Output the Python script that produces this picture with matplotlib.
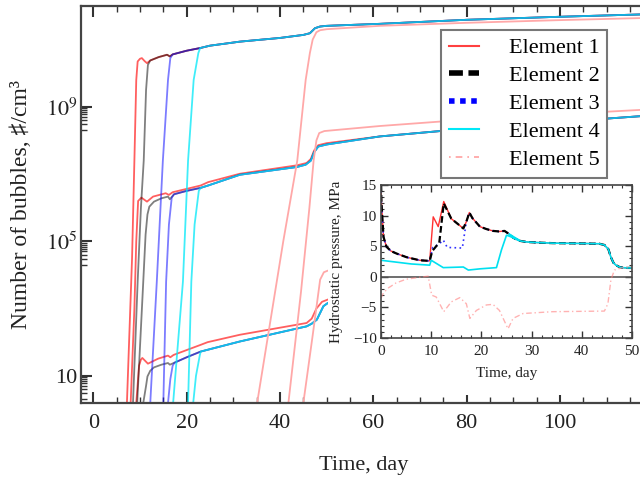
import numpy as np
import matplotlib
matplotlib.use("Agg")
from matplotlib import pyplot as plt
from matplotlib.lines import Line2D
from matplotlib.patches import Rectangle
from matplotlib.ticker import FixedLocator, MultipleLocator, NullFormatter

plt.rcParams['font.family'] = ['Liberation Serif', 'DejaVu Sans']
plt.rcParams['mathtext.fontset'] = 'stix'

# ---- main plot data: day, log10(number of bubbles per cm3) ----
# shared paths once the curves of elements 1-4 have merged
top_t = [12.2, 14.0, 15.8, 16.4, 17.0, 20.0, 22.9, 25.0, 29.3, 31.4, 40.0, 45.0, 46.4, 47.5, 48.6, 50.0, 61.4, 80.0, 100.0, 120.0]
top_v = [10.38, 10.48, 10.55, 10.50, 10.56, 10.67, 10.75, 10.82, 10.90, 10.94, 11.05, 11.14, 11.19, 11.34, 11.39, 11.41, 11.47, 11.59, 11.68, 11.76]
mid_t = [17.3, 20.0, 23.0, 24.6, 31.4, 43.6, 45.5, 46.6, 47.3, 48.2, 50.0, 61.4, 80.0, 100.0, 120.0]
mid_v = [6.40, 6.50, 6.59, 6.66, 6.98, 7.21, 7.28, 7.40, 7.65, 7.82, 7.88, 8.12, 8.35, 8.55, 8.75]
bot_t = [17.4, 20.0, 23.0, 31.4, 45.7, 46.8, 47.9, 49.3, 50.3, 53.0]
bot_v = [1.39, 1.55, 1.72, 2.02, 2.47, 2.55, 2.67, 3.07, 3.17, 3.22]

# Element 1
e1_top_t = [7.2, 8.3, 8.8, 9.2, 9.5, 10.0, 10.4, 11.0, 11.5]
e1_top_v = [0.19, 4.5, 7.4, 9.8, 10.35, 10.43, 10.45, 10.36, 10.30]
e1_mid_t = [8.0, 8.8, 9.2, 9.6, 10.3, 11.5, 12.8, 15.5, 16.2, 17.0, 23.0, 24.6, 31.4, 43.6, 45.7, 46.6, 47.3, 48.2, 50.0]
e1_mid_v = [0.19, 3.0, 5.0, 6.2, 6.30, 6.18, 6.33, 6.43, 6.38, 6.46, 6.66, 6.76, 7.01, 7.26, 7.33, 7.45, 7.70, 7.86, 7.92]
e1_bot_t = [9.2, 9.8, 10.2, 10.5, 11.7, 13.9, 16.0, 16.5, 17.2, 23.0, 24.5, 31.4, 45.7, 46.8, 47.8, 49.0, 50.3, 53.0]
e1_bot_v = [0.19, 1.3, 1.48, 1.53, 1.36, 1.51, 1.60, 1.55, 1.62, 1.92, 2.0, 2.22, 2.57, 2.7, 3.0, 3.2, 3.27, 3.32]
# Element 2
e2_top_t = [8.5, 9.5, 10.2, 10.8, 11.3, 11.7]
e2_top_v = [0.19, 3.8, 6.0, 7.4, 9.5, 10.25]
e2_mid_t = [9.4, 10.7, 11.2, 11.6, 12.0, 13.0, 14.6, 16.0, 16.4]
e2_mid_v = [0.19, 3.8, 5.2, 5.8, 6.03, 6.18, 6.28, 6.33, 6.25]
e2_bot_t = [10.7, 11.3, 11.6, 12.2, 13.0, 14.6, 16.0, 16.4]
e2_bot_v = [0.19, 0.7, 0.98, 1.15, 1.25, 1.33, 1.38, 1.33]
# Element 3
e3_top_t = [12.2, 13.6, 14.9, 16.0, 16.5]
e3_top_v = [0.19, 3.8, 7.4, 9.8, 10.45]
e3_mid_t = [15.0, 15.6, 16.2, 16.8]
e3_mid_v = [0.19, 3.8, 5.5, 6.3]
e3_bot_t = [16.0, 16.5, 17.0]
e3_bot_v = [0.19, 0.9, 1.3]
# Element 4
e4_top_t = [17.1, 19.2, 20.3, 21.5, 22.5]
e4_top_v = [0.19, 3.8, 7.4, 9.8, 10.6]
e4_mid_t = [20.3, 21.0, 21.7, 22.6]
e4_mid_v = [0.19, 3.8, 5.5, 6.5]
e4_bot_t = [21.4, 22.0, 22.8]
e4_bot_v = [0.19, 1.0, 1.6]
# Element 5
e5_top_t = [35.1, 40.7, 43.7, 45.5, 46.4, 47.0, 47.8, 48.6, 50.0, 61.4, 80.0, 100.0, 120.0]
e5_top_v = [0.19, 5.0, 7.4, 9.8, 10.6, 11.0, 11.22, 11.28, 11.31, 11.41, 11.50, 11.58, 11.65]
e5_mid_t = [41.8, 44.5, 46.3, 47.2, 47.8, 48.4, 49.5, 61.4, 80.0, 100.0, 120.0]
e5_mid_v = [0.19, 3.5, 6.0, 7.4, 8.0, 8.22, 8.28, 8.43, 8.62, 8.78, 8.93]
e5_bot_t = [45.0, 47.0, 48.6, 49.4, 50.3, 53.0]
e5_bot_v = [0.19, 2.2, 3.86, 4.08, 4.13, 4.18]

# ---- inset data: day, hydrostatic pressure (MPa) ----
p_tail_t = [17.6, 18.2, 19.7, 21.0, 22.3, 23.6, 24.6, 25.5, 26.3, 27.5, 28.9, 31.0, 34.2, 40.0, 43.5, 44.5, 45.3, 45.8, 46.3, 46.8, 47.5, 48.1, 49.0, 50.0]
p_tail = [10.5, 9.6, 8.2, 7.8, 7.5, 7.4, 7.5, 7.0, 6.4, 5.9, 5.7, 5.6, 5.5, 5.45, 5.4, 5.2, 4.5, 3.2, 2.3, 1.9, 1.6, 1.5, 1.45, 1.45]
p1_t = [0.0, 0.1, 0.5, 1.1, 2.0, 3.1, 5.1, 7.7, 9.7, 10.4, 11.4, 12.5, 14.0, 16.4, 17.0]
p1 = [15.0, 12.0, 6.5, 4.9, 4.2, 3.8, 3.2, 2.7, 2.6, 9.8, 8.2, 12.3, 9.5, 7.9, 9.0]
p2_t = [0.0, 0.1, 0.5, 1.1, 2.0, 3.1, 5.1, 7.7, 9.7, 10.2, 11.0, 11.6, 12.5, 14.0, 16.4, 17.0]
p2 = [15.0, 12.0, 6.5, 4.9, 4.2, 3.8, 3.2, 2.7, 2.6, 4.2, 5.0, 5.5, 12.0, 9.5, 7.9, 9.0]
p3_t = [0.0, 0.1, 0.5, 1.1, 2.0, 3.1, 5.1, 7.7, 9.7, 10.3, 11.5, 12.4, 13.2, 16.2, 17.0]
p3 = [14.0, 11.5, 6.5, 4.9, 4.2, 3.8, 3.2, 2.7, 2.6, 4.8, 5.3, 6.0, 4.8, 4.7, 9.0]
p4_t = [0.0, 3.0, 6.0, 9.7, 10.0, 11.0, 12.4, 16.4, 17.4, 19.7, 23.0, 24.0, 25.0, 26.0, 27.5]
p4 = [2.7, 2.4, 2.1, 1.9, 2.7, 2.2, 1.5, 1.6, 1.1, 1.3, 1.5, 4.4, 6.8, 6.5, 6.0]
p5_t = [0.0, 0.5, 1.5, 3.0, 5.0, 7.5, 9.4, 10.1, 11.0, 12.5, 14.0, 15.7, 17.0, 17.7, 19.0, 21.0, 22.3, 23.6, 25.3, 26.3, 28.3, 34.2, 44.5, 45.2, 45.8, 46.5, 48.1, 50.0]
p5 = [-3.5, -2.6, -1.8, -1.0, -0.4, -0.1, 0.1, -3.0, -3.3, -5.7, -4.1, -3.4, -4.4, -6.8, -5.5, -4.6, -4.5, -5.5, -8.5, -6.8, -6.0, -5.7, -5.6, -4.4, -0.5, 1.1, 1.5, 1.45]

labels = ["Element 1", "Element 2", "Element 3", "Element 4", "Element 5"]
colors = ["#ff2a2a", "#000000", "#1010ff", "#00e8f8", "#ffa8a8"]
x_ticks = [0, 20, 40, 60, 80, 100]


def join(rt, rv, tt, tv):
    t = list(rt) + [x for x in tt if x > rt[-1]]
    v = list(rv) + [y for x, y in zip(tt, tv) if x > rt[-1]]
    return np.array(t), 10.0 ** np.array(v)


curves = [
    (0, join(e1_top_t, e1_top_v, top_t, top_v)),
    (0, join(e1_mid_t, e1_mid_v, mid_t, mid_v)),
    (0, join(e1_bot_t, e1_bot_v, bot_t, bot_v)),
    (1, join(e2_top_t, e2_top_v, top_t, top_v)),
    (1, join(e2_mid_t, e2_mid_v, mid_t, mid_v)),
    (1, join(e2_bot_t, e2_bot_v, bot_t, bot_v)),
    (2, join(e3_top_t, e3_top_v, top_t, top_v)),
    (2, join(e3_mid_t, e3_mid_v, mid_t, mid_v)),
    (2, join(e3_bot_t, e3_bot_v, bot_t, bot_v)),
    (3, join(e4_top_t, e4_top_v, top_t, top_v)),
    (3, join(e4_mid_t, e4_mid_v, mid_t, mid_v)),
    (3, join(e4_bot_t, e4_bot_v, bot_t, bot_v)),
    (4, (np.array(e5_top_t), 10.0 ** np.array(e5_top_v))),
    (4, (np.array(e5_mid_t), 10.0 ** np.array(e5_mid_v))),
    (4, (np.array(e5_bot_t), 10.0 ** np.array(e5_bot_v))),
]

fig = plt.figure(figsize=(6.4, 4.84), dpi=100)
ax = fig.add_axes([81 / 640, 81 / 484, 595.7 / 640, 397 / 484])

alphas = [0.75, 0.5, 0.55, 0.75, 1.0]
for k, (t, n) in curves:
    ax.plot(t, n, color=colors[k], lw=1.3, alpha=alphas[k])

ax.set_yscale("log")
ax.set_xlim(-2.64, 125)
ax.set_ylim(10 ** 0.19, 10 ** 12.0)
ax.xaxis.set_major_locator(FixedLocator(x_ticks))
ax.xaxis.set_minor_locator(MultipleLocator(5))
ax.yaxis.set_major_locator(FixedLocator([10, 1e5, 1e9]))
ax.set_yticklabels(["10", r"$10^5$", r"$10^9$"])
ax.yaxis.set_minor_locator(FixedLocator([m * 10.0 ** e for e in (0, 4, 8) for m in range(2, 10)]))
ax.yaxis.set_minor_formatter(NullFormatter())
ax.tick_params(which="both", direction="in", top=True, right=False, colors="#333333", labelcolor="#222222")
ax.tick_params(which="major", length=8, width=1.5, labelsize=16)
ax.tick_params(which="minor", length=4.5, width=1.0)
ax.tick_params(axis="x", pad=8)
ax.tick_params(axis="y", pad=2.5)
for s in ax.spines.values():
    s.set_linewidth(1.6)
    s.set_color("#444444")
ax.set_xlabel("Time, day", fontsize=16, color="#222222")
ax.xaxis.set_label_coords(0.475, -0.134)
ax.set_ylabel("Number of bubbles, \u266f/cm\u00b3", fontsize=17, color="#222222")
ax.yaxis.set_label_coords(-0.083, 0.5)

# white area behind the inset
fig.add_artist(Rectangle((328 / 640, 1 - 395 / 484), 1.0, (395 - 177) / 484,
                         transform=fig.transFigure, facecolor="white", edgecolor="none", zorder=1))

ins = fig.add_axes([381 / 640, 1 - 338 / 484, 251 / 640, 153 / 484])
ins.set_zorder(2)
ins.axhline(0, color="#555555", lw=1.2)
ins.plot(p1_t + p_tail_t, p1 + p_tail, color="#ff3030", lw=1.0)
ins.plot(p3_t + p_tail_t, p3 + p_tail, color="#3030ff", lw=1.2, ls=(0, (1, 2)))
ins.plot(p2_t + p_tail_t, p2 + p_tail, color="#000000", lw=1.6, ls=(0, (3, 1.5)))
ins.plot(p4_t + p_tail_t[7:], p4 + p_tail[7:], color="#00e0f0", lw=1.2)
ins.plot(p5_t, p5, color="#ff8080", lw=1.0, alpha=0.6, ls=(0, (4, 2, 1, 2)))
ins.set_xlim(0, 50)
ins.set_ylim(-10, 15)
ins.xaxis.set_major_locator(MultipleLocator(10))
ins.xaxis.set_minor_locator(MultipleLocator(2))
ins.yaxis.set_major_locator(MultipleLocator(5))
ins.yaxis.set_minor_locator(MultipleLocator(1))
ins.tick_params(which="both", direction="in", top=True, right=True, colors="#333333", labelcolor="#222222")
ins.tick_params(which="major", length=5, width=1.0, labelsize=11)
ins.tick_params(which="minor", length=2.5, width=0.8)
ins.tick_params(axis="x", pad=5)
ins.tick_params(axis="y", pad=3)
for s in ins.spines.values():
    s.set_linewidth(1.2)
    s.set_color("#444444")
ins.set_xlabel("Time, day", fontsize=11, color="#222222")
ins.xaxis.set_label_coords(0.5, -0.19)
ins.set_ylabel("Hydrostatic pressure, MPa", fontsize=11, color="#222222")
ins.yaxis.set_label_coords(-0.15, 0.5)

handles = [
    Line2D([], [], color="#ff4040", lw=1.5),
    Line2D([], [], color="#000000", lw=4, ls=(0, (2.5, 1))),
    Line2D([], [], color="#0000ff", lw=4, ls=(0, (1, 1))),
    Line2D([], [], color="#00e8f8", lw=1.5),
    Line2D([], [], color="#ffa0a0", lw=1.2, ls=(0, (1, 3, 4, 3))),
]
leg = fig.legend(handles, labels, loc="upper left", bbox_to_anchor=(441 / 640, 1 - 30 / 484),
                 fontsize=16, frameon=True, fancybox=False, framealpha=1, edgecolor="#777777",
                 borderpad=0.35, labelspacing=0.33, handlelength=1.35, handletextpad=1.35,
                 borderaxespad=0)
leg.get_frame().set_linewidth(1.5)
leg.set_zorder(5)

fig.savefig("out.png", dpi=100)
